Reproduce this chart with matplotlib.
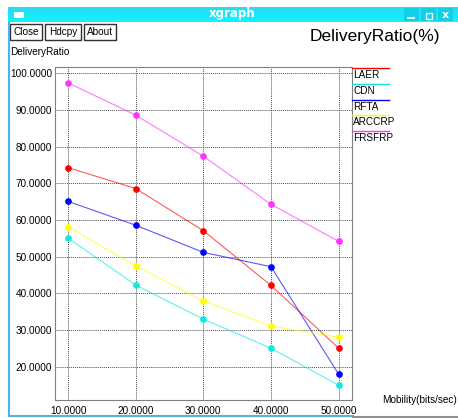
import matplotlib
matplotlib.use("Agg")
import matplotlib.pyplot as plt
from matplotlib.patches import Rectangle
from matplotlib.lines import Line2D
import numpy as np

# ----- datos -----
mobility = [10, 20, 30, 40, 50]
laer = [74.3, 68.6, 57.1, 42.2, 25.1]
cdn = [55.1, 42.3, 33.0, 25.1, 15.0]
rfta = [65.1, 58.6, 51.2, 47.3, 18.0]
arccrp = [58.2, 47.5, 38.0, 31.1, 28.1]
frsfrp = [97.4, 88.6, 77.4, 64.3, 54.2]

names = ["LAER", "CDN", "RFTA", "ARCCRP", "FRSFRP"]
series = [laer, cdn, rfta, arccrp, frsfrp]
colors = ["#ff0000", "#10e8e0", "#0000ff", "#ffff00", "#ff33ff"]
yticks = [20, 30, 40, 50, 60, 70, 80, 90, 100]

W, H = 458, 418
plt.rcParams["font.family"] = ["Liberation Sans", "DejaVu Sans"]
fig = plt.figure(figsize=(W / 100, H / 100), dpi=100)
fig.patch.set_facecolor("white")


def fx(px):
    return px / W


def fy(py):
    return 1 - py / H


# ----- marco de ventana xgraph -----
bar = fig.add_axes([fx(8), fy(22), fx(450), 15 / H])
bar.set_axis_off()
grad = np.linspace(0, 1, 50).reshape(-1, 1)
bar.imshow(grad, aspect="auto", extent=[0, 1, 0, 1],
           cmap=matplotlib.colors.LinearSegmentedColormap.from_list("t", ["#2ad8f0", "#0ff4ff"]))
bar.set_xlim(0, 1); bar.set_ylim(0, 1)
fig.text(fx(232), fy(14), "xgraph", color="white", fontweight="bold",
         fontsize=8.5, ha="center", va="center", family="DejaVu Sans")
fig.patches.append(Rectangle((fx(14), fy(18)), fx(10), 6 / H, transform=fig.transFigure,
                             facecolor="white", edgecolor="none", zorder=3))
for x0 in [404, 421, 438]:
    fig.patches.append(Rectangle((fx(x0), fy(21)), fx(15), 13 / H, transform=fig.transFigure,
                                 facecolor="#12cfe6", edgecolor="none", zorder=3))
fig.lines.append(Line2D([fx(408), fx(414)], [fy(17.5), fy(17.5)], transform=fig.transFigure,
                        color="white", lw=1.3, zorder=4))
fig.patches.append(Rectangle((fx(425.5), fy(18.5)), fx(6), 6 / H, transform=fig.transFigure,
                             facecolor="none", edgecolor="white", lw=1, zorder=4))
fig.text(fx(445.5), fy(14.5), "x", color="white", fontsize=8, ha="center", va="center",
         fontweight="bold", family="DejaVu Sans", zorder=5)

# bordes
fig.lines.append(Line2D([fx(8.5), fx(8.5)], [fy(22), fy(416)], transform=fig.transFigure,
                        color="#4ab4ec", lw=1.5))
fig.lines.append(Line2D([fx(8.5), fx(353)], [fy(415.5), fy(415.5)], transform=fig.transFigure,
                        color="#4ab4ec", lw=1.5))
fig.lines.append(Line2D([fx(353), fx(458)], [fy(416.5), fy(416.5)], transform=fig.transFigure,
                        color="#909090", lw=1.5))

# botones
for x0, x1, label in [(10, 42, "Close"), (45, 81, "Hdcpy"), (84, 116, "About")]:
    fig.patches.append(Rectangle((fx(x0), fy(40)), fx(x1 - x0), 16 / H, transform=fig.transFigure,
                                 facecolor="white", edgecolor="#303030", lw=1))
    fig.text(fx((x0 + x1) / 2), fy(32), label, fontsize=7.2, ha="center", va="center")

fig.text(fx(10), fy(52), "DeliveryRatio", fontsize=7.2, ha="left", va="center")
fig.text(fx(440), fy(37), "DeliveryRatio(%)", fontsize=12.5, ha="right", va="center")
fig.text(fx(382), fy(400), "Mobility(bits/sec)", fontsize=7.2, ha="left", va="center")

# ----- grafico -----
left, right, top, bottom = 55, 351.7, 67.3, 400
ax = fig.add_axes([fx(left), fy(bottom), fx(right - left), (bottom - top) / H])
ax.set_xlim(8.07, 51.93)
ax.set_ylim(10.98, 101.63)
for s in ax.spines.values():
    s.set_linestyle((0, (1, 1)))
    s.set_color("#808080")
    s.set_linewidth(0.8)
ax.set_xticks(mobility)
ax.set_yticks(yticks)
ax.set_xticklabels([f"{v:.4f}" for v in mobility], fontsize=7.2)
ax.set_yticklabels([f"{v:.4f}" for v in yticks], fontsize=7.2)
ax.tick_params(length=0, pad=2)
ax.tick_params(axis="x", pad=4)
ax.grid(True, color="#505050", linestyle=(0, (1, 1)), lw=0.7)

for vals, c in zip(series, colors):
    ax.plot(mobility, vals, color=c, lw=0.8, alpha=0.65, zorder=3)
    ax.plot(mobility, vals, ls="none", marker="o", ms=3.8, color=c, zorder=4)

# leyenda a mano
for i, (name, c) in enumerate(zip(names, colors)):
    ly = 68 + i * 15.8
    fig.lines.append(Line2D([fx(352), fx(389)], [fy(ly), fy(ly)], transform=fig.transFigure,
                            color=c, lw=1))
    fig.text(fx(353), fy(ly + 7), name, fontsize=7.2, ha="left", va="center")

fig.savefig("out.png", dpi=100)
